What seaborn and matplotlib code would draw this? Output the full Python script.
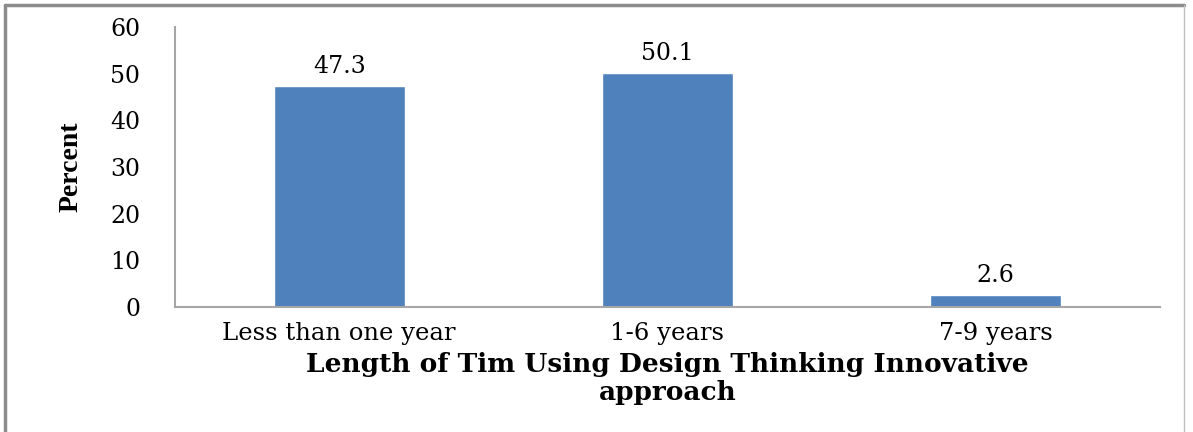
import matplotlib
matplotlib.use("Agg")
import matplotlib.pyplot as plt
from matplotlib.lines import Line2D
import seaborn as sns
import pandas as pd

categories = ["Less than one year", "1-6 years", "7-9 years"]
percent = [47.3, 50.1, 2.6]
value_labels = ["47.3", "50.1", "2.6"]
y_ticks = [0, 10, 20, 30, 40, 50, 60]

sns.set_theme(style="white")
plt.rcParams['font.family'] = ['DejaVu Serif', 'Liberation Serif']
plt.rcParams['text.color'] = 'black'
plt.rcParams['axes.labelcolor'] = 'black'
plt.rcParams['xtick.color'] = 'black'
plt.rcParams['ytick.color'] = 'black'

df = pd.DataFrame({"cat": categories, "pct": percent})

fig = plt.figure(figsize=(11.93, 4.32), dpi=100)
ax = fig.add_axes([0.1467, 0.2894, 0.8256, 0.6481])
sns.barplot(data=df, x="cat", y="pct", color="#4F81BD", saturation=1, width=0.40, ax=ax)

ax.set_ylim(0, 60)
ax.set_xlim(-0.5, 2.5)
ax.set_yticks(y_ticks)
ax.set_yticklabels([str(t) for t in y_ticks], fontsize=17)
ax.tick_params(axis='y', length=0, pad=25)
ax.tick_params(axis='x', length=0, pad=11, labelsize=17.5)

for i, (v, lab) in enumerate(zip(percent, value_labels)):
    ax.annotate(lab, (i, v), xytext=(0, 6), textcoords="offset points",
                ha="center", va="bottom", fontsize=17)

for s in ["top", "right"]:
    ax.spines[s].set_visible(False)
for s in ["left", "bottom"]:
    ax.spines[s].set_color("#a6a6a6")
    ax.spines[s].set_linewidth(1.5)

ax.set_xlabel("Length of Tim Using Design Thinking Innovative\napproach",
              fontsize=19, fontweight="bold", labelpad=5, linespacing=1.12)
ax.set_ylabel("Percent", fontsize=20, fontweight="bold", labelpad=19,
              family=["Liberation Serif", "DejaVu Serif"])

# figure border
fig.add_artist(Line2D([5.5/1193, 5.5/1193], [0, 1-5/432], transform=fig.transFigure,
                      color="#8c8c8c", lw=2.5))
fig.add_artist(Line2D([5.5/1193, 1184/1193], [1-5/432, 1-5/432], transform=fig.transFigure,
                      color="#8c8c8c", lw=2.5))
fig.add_artist(Line2D([1184/1193, 1184/1193], [0, 1-5/432], transform=fig.transFigure,
                      color="#c0c0c0", lw=1))

fig.savefig("out.png", dpi=100)
